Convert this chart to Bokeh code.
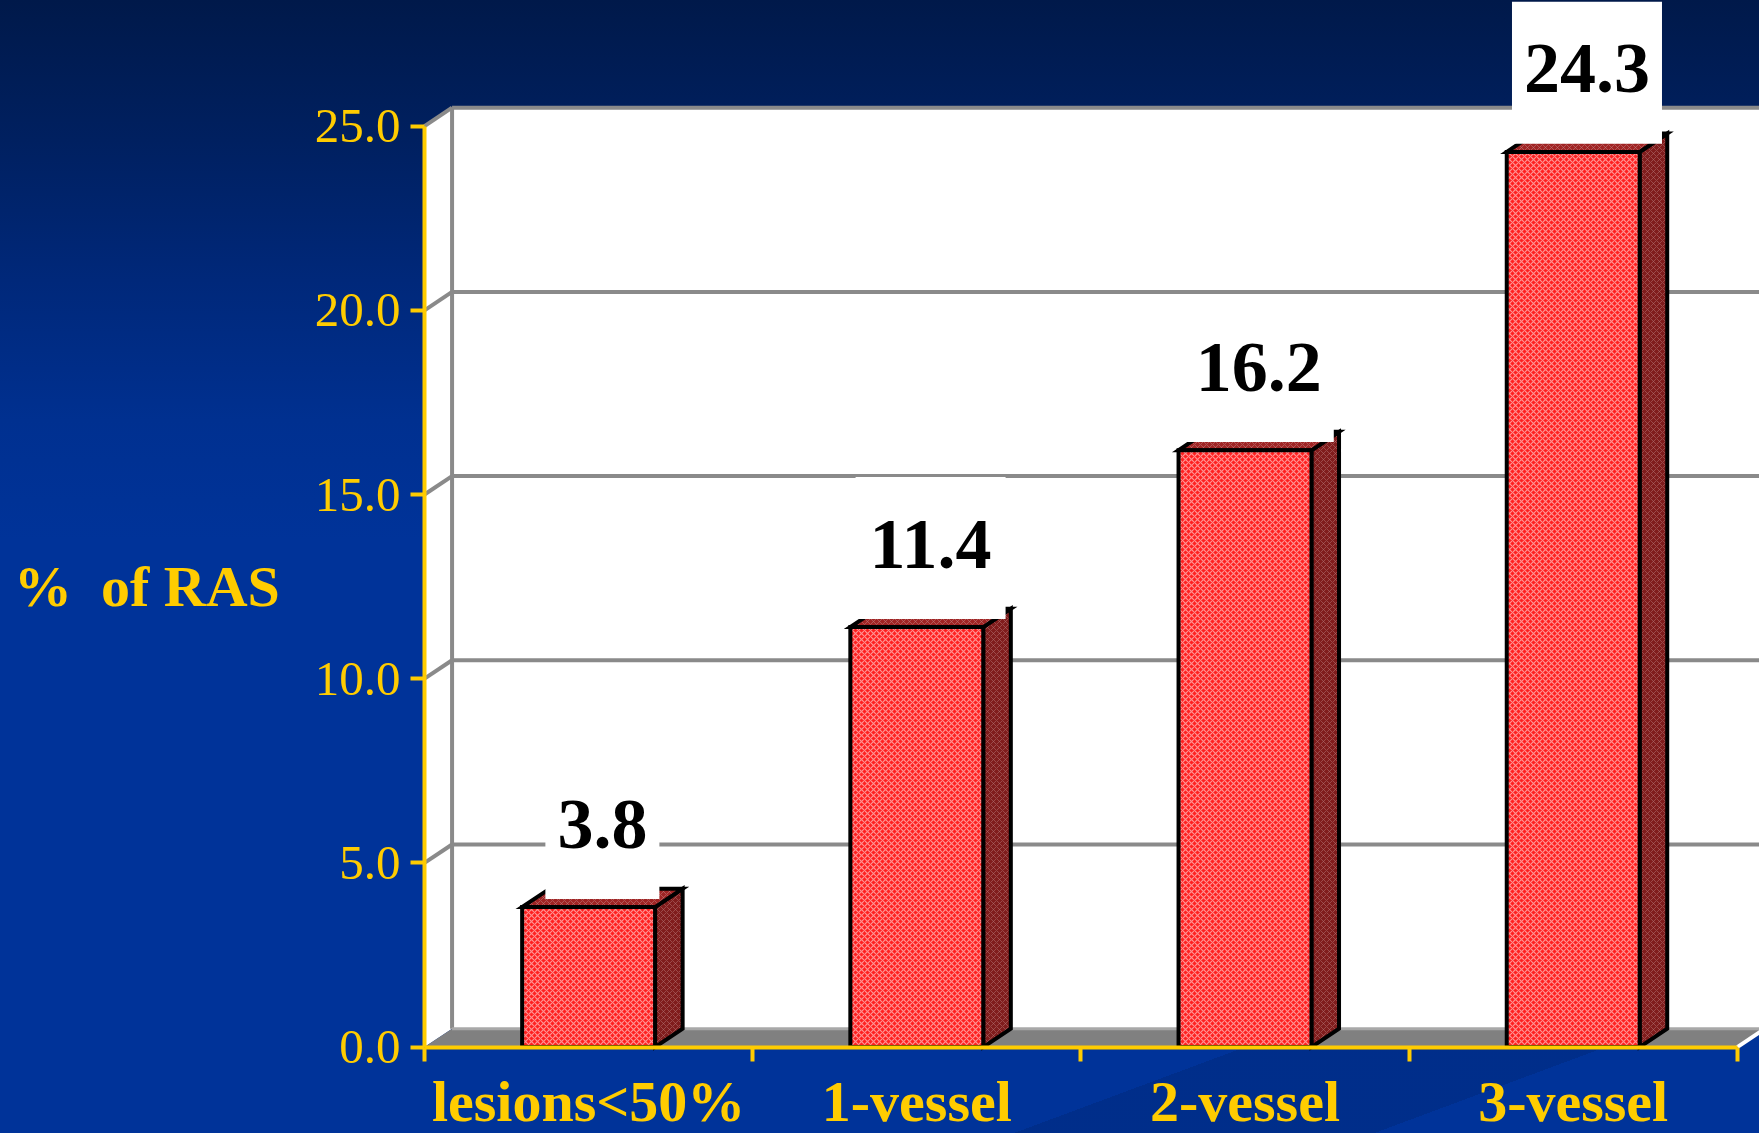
from bokeh.plotting import figure
from bokeh.models import Range1d, FixedTicker, Label, NumeralTickFormatter
from bokeh.embed import file_html
from bokeh.resources import INLINE

# ---- data -------------------------------------------------------------
categories = ["lesions<50%", "1-vessel", "2-vessel", "3-vessel"]
percent_ras = [3.8, 11.4, 16.2, 24.3]
value_labels = ["3.8", "11.4", "16.2", "24.3"]
y_ticks = [0, 5, 10, 15, 20, 25]
y_title = "%\u00a0 of RAS"

# ---- layout / style constants -----------------------------------------
W, H = 1759, 1133
AXIS_X_PX, AXIS_Y_PX = 424, 1046.6     # where the axes cross on the canvas
PX_PER_X, PX_PER_Y = 328.2, 36.84
X0, X1 = -AXIS_X_PX / PX_PER_X, (W - AXIS_X_PX) / PX_PER_X
Y0, Y1 = -(H - AXIS_Y_PX) / PX_PER_Y, AXIS_Y_PX / PX_PER_Y
DX, DY = 0.084, 0.5          # 3-D depth in data units
BAR_W = 0.405
LABEL_GAP = 2.25
YELLOW = "#FFCC00"
SERIF = "Liberation Serif"
GRID = "#8a8a8a"

n = len(categories)
centers = [i + 0.5 for i in range(n)]
top = y_ticks[-1]

p = figure(width=W, height=H, x_range=Range1d(X0, X1), y_range=Range1d(Y0, Y1),
           output_backend="svg", toolbar_location=None,
           min_border_left=0, min_border_bottom=0,
           min_border_top=0, min_border_right=0)
p.background_fill_color = None
p.border_fill_color = None
p.outline_line_color = None
p.xgrid.visible = False
p.ygrid.visible = False
p.styles = {
    "background": (
        "linear-gradient(159.6deg, rgba(0,0,0,0) 84.5%, rgba(0,18,60,0.16) 84.5%, "
        "rgba(0,18,60,0.16) 92%, rgba(0,0,0,0) 92%), "
        "linear-gradient(180deg, #00194a 0px, #002060 140px, #00287a 280px, "
        "#003090 420px, #003399 540px, #003399 100%)"
    )
}

# ---- walls and floor ----------------------------------------------------
p.quad(left=DX, right=X1 + 1, bottom=DY, top=top + DY, fill_color="white", line_color=None)
p.patch([0, DX, DX, 0], [0, DY, top + DY, top], fill_color="white", line_color=None)

gx0 = [DX for v in y_ticks[1:]] + [0 for v in y_ticks[1:]] + [DX]
gy0 = [v + DY for v in y_ticks[1:]] + [v for v in y_ticks[1:]] + [DY]
gx1 = [X1 + 1 for v in y_ticks[1:]] + [DX for v in y_ticks[1:]] + [DX]
gy1 = [v + DY for v in y_ticks[1:]] + [v + DY for v in y_ticks[1:]] + [top + DY]
p.segment(gx0, gy0, gx1, gy1, line_color=GRID, line_width=4)

p.patch([0, n, n + DX, DX], [0, 0, DY, DY], fill_color="#808080", line_color=None)
p.segment([DX], [DY], [X1 + 1], [DY], line_color="#a8a8a8", line_width=3)
p.segment([n], [0], [n + DX], [DY], line_color="white", line_width=4)

# ---- bars -----------------------------------------------------------------
xl = [c - BAR_W / 2 for c in centers]
xr = [c + BAR_W / 2 for c in centers]
side_xs = [[r, r + DX, r + DX, r] for r in xr]
side_ys = [[0, DY, v + DY, v] for v in percent_ras]
top_xs = [[l, r, r + DX, l + DX] for l, r in zip(xl, xr)]
top_ys = [[v, v, v + DY, v + DY] for v in percent_ras]

p.patches(side_xs, side_ys, fill_color="#801c1c", hatch_pattern="x", hatch_color="#b07070",
          hatch_alpha=0.55, hatch_scale=6, hatch_weight=1,
          line_color="black", line_width=4, line_join="miter")
p.patches(top_xs, top_ys, fill_color="#a02424", hatch_pattern="x", hatch_color="#c08080",
          hatch_alpha=0.55, hatch_scale=6, hatch_weight=1,
          line_color="black", line_width=4, line_join="miter")
p.quad(left=xl, right=xr, bottom=0, top=percent_ras,
       fill_color="#ff2020", hatch_pattern="x", hatch_color="#ffd0d0", hatch_alpha=0.65,
       hatch_scale=6, hatch_weight=1.2,
       line_color="black", line_width=4, line_join="miter")

# ---- value labels with white boxes ----------------------------------------
box_w = [sum(18 if ch == "." else 36 for ch in t) + 24 for t in value_labels]
p.rect(x=[c + DX / 2 for c in centers], y=[v + LABEL_GAP - 0.1 for v in percent_ras],
       width=box_w, height=142, width_units="screen", height_units="screen",
       fill_color="white", line_color=None)
for c, v, t in zip(centers, percent_ras, value_labels):
    p.add_layout(Label(x=c + DX / 2, y=v + LABEL_GAP, text=t,
                       text_align="center", text_baseline="middle",
                       text_font=SERIF, text_font_style="bold", text_font_size="72px",
                       text_color="black"))

# y title
p.add_layout(Label(x=X0 + 13.5 / PX_PER_X, y=12.5, text=y_title, text_align="left",
                   text_baseline="middle", text_font=SERIF, text_font_style="bold",
                   text_font_size="58px", text_color=YELLOW))

# ---- axes -----------------------------------------------------------------
yax = p.yaxis[0]
yax.fixed_location = 0
yax.ticker = FixedTicker(ticks=y_ticks)
yax.formatter = NumeralTickFormatter(format="0.0")
yax.bounds = (y_ticks[0], top)
yax.axis_line_color = YELLOW
yax.axis_line_width = 4
yax.major_tick_line_color = YELLOW
yax.major_tick_line_width = 4
yax.major_tick_out = 14
yax.major_tick_in = 0
yax.minor_tick_line_color = None
yax.major_label_text_color = YELLOW
yax.major_label_text_font = SERIF
yax.major_label_text_font_size = "49px"
yax.major_label_standoff = 10

xax = p.xaxis[0]
xax.fixed_location = 0
xax.ticker = FixedTicker(ticks=centers, minor_ticks=list(range(n + 1)))
xax.major_label_overrides = {c: cat for c, cat in zip(centers, categories)}
xax.bounds = (0, n)
xax.axis_line_color = YELLOW
xax.axis_line_width = 4
xax.major_tick_line_color = None
xax.major_tick_out = 0
xax.major_tick_in = 0
xax.minor_tick_line_color = YELLOW
xax.minor_tick_line_width = 4
xax.minor_tick_out = 14
xax.minor_tick_in = 0
xax.major_label_text_color = YELLOW
xax.major_label_text_font = SERIF
xax.major_label_text_font_style = "bold"
xax.major_label_text_font_size = "58px"
xax.major_label_standoff = 8

open("out.html", "w").write(file_html(p, INLINE))
